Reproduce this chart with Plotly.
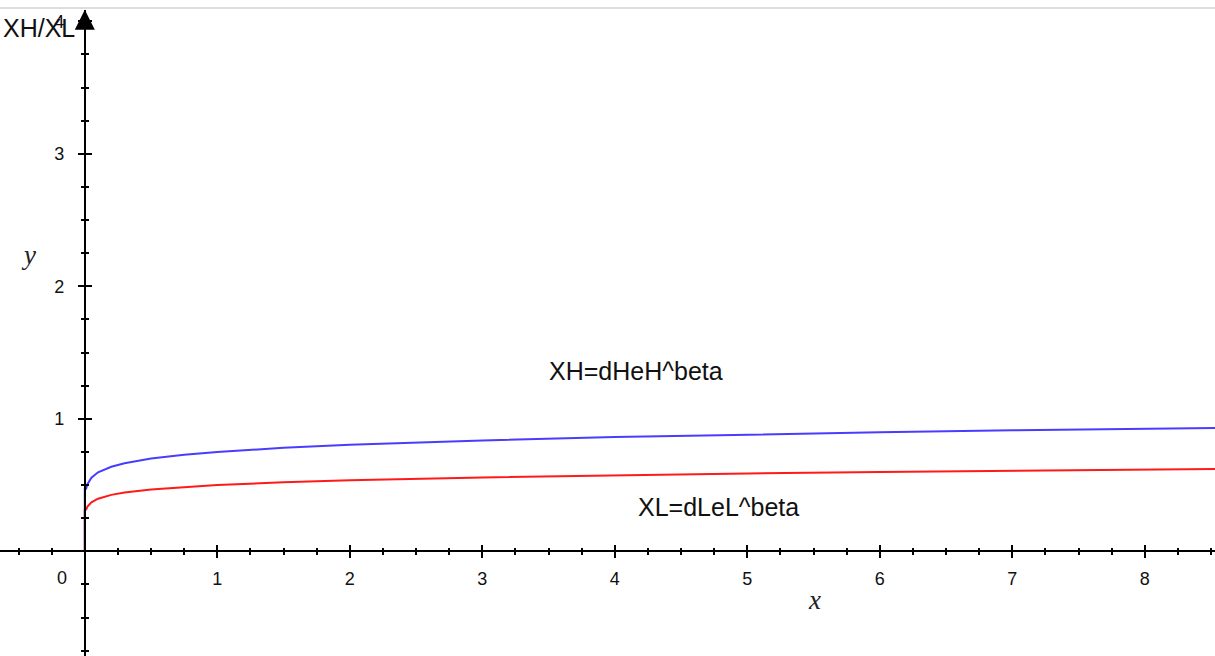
import plotly.graph_objects as go

# values
x_vals = [0, 0, 0.01, 0.02, 0.05, 0.1, 0.2, 0.3, 0.5, 0.75, 1, 1.5, 2, 3, 4, 5, 6, 7, 8, 8.6]
xh_vals = [0, 0.47, 0.473, 0.506, 0.555, 0.596, 0.638, 0.665, 0.700, 0.729, 0.75, 0.781, 0.804, 0.836, 0.862, 0.881, 0.898, 0.913, 0.925, 0.931]
xl_vals = [0, 0.31, 0.315, 0.337, 0.370, 0.397, 0.426, 0.443, 0.467, 0.486, 0.50, 0.521, 0.536, 0.557, 0.574, 0.587, 0.599, 0.608, 0.617, 0.621]
x_ticks = [1, 2, 3, 4, 5, 6, 7, 8]
y_ticks = [1, 2, 3, 4]

XR = [-0.64, 8.53]
YR = [-0.79, 4.086]
TICKFONT = dict(family="Liberation Sans, Arial, sans-serif", size=18, color="#111")

fig = go.Figure()
fig.add_trace(go.Scatter(x=x_vals, y=xh_vals, mode="lines",
                         line=dict(color="#4a3cff", width=2), hoverinfo="skip"))
fig.add_trace(go.Scatter(x=x_vals, y=xl_vals, mode="lines",
                         line=dict(color="#ff1a1a", width=2), hoverinfo="skip"))
# invisible trace to activate overlay axes (inside ticks)
fig.add_trace(go.Scatter(x=[None], y=[None], xaxis="x2", yaxis="y2",
                         mode="lines", hoverinfo="skip"))

y0_paper = (0 - YR[0]) / (YR[1] - YR[0]) * 0.985
x0_paper = (0 - XR[0]) / (XR[1] - XR[0])

common = dict(showgrid=False, zeroline=False, ticklen=6, tickwidth=1.5,
              tickcolor="black", automargin=False)
minor_out = dict(dtick=0.25, tick0=0, ticks="outside", ticklen=3,
                 tickwidth=1.5, tickcolor="black")
minor_in = dict(dtick=0.25, tick0=0, ticks="inside", ticklen=3,
                tickwidth=1.5, tickcolor="black")
fig.update_layout(
    width=1215, height=656,
    margin=dict(l=0, r=0, t=0, b=0, autoexpand=False),
    paper_bgcolor="white", plot_bgcolor="white",
    showlegend=False,
    xaxis=dict(range=XR, domain=[0, 1], anchor="free", position=y0_paper,
               tickmode="array", tickvals=x_ticks, ticks="outside",
               showline=True, linecolor="black", linewidth=2,
               tickfont=TICKFONT, ticklabelstandoff=5, minor=minor_out,
               **common),
    xaxis2=dict(range=XR, domain=[0, 1], anchor="free", position=y0_paper,
                overlaying="x", side="bottom", tickmode="array", tickvals=x_ticks,
                ticks="inside", showticklabels=False, showline=False,
                minor=minor_in, **common),
    yaxis=dict(range=YR, domain=[0, 0.985], anchor="free", position=x0_paper,
               tickmode="array", tickvals=y_ticks, ticks="outside",
               showline=True, linecolor="black", linewidth=2,
               tickfont=TICKFONT, ticklabelstandoff=10, minor=minor_out,
               **common),
    yaxis2=dict(range=YR, domain=[0, 0.985], anchor="free", position=x0_paper,
                overlaying="y", side="left", tickmode="array", tickvals=y_ticks,
                ticks="inside", showticklabels=False, showline=False,
                minor=minor_in, **common),
)

# thin grey line at top
fig.add_shape(type="line", xref="paper", yref="paper", x0=0, x1=1,
              y0=1 - 8 / 656, y1=1 - 8 / 656,
              line=dict(color="#dddddd", width=2))

ann_font = dict(family="Liberation Sans, Arial, sans-serif", size=25, color="#111")
# y-axis arrow
fig.add_annotation(x=0, y=YR[1], xref="x", yref="y", text="", showarrow=True,
                   ax=0, ay=16, arrowhead=2, arrowsize=2, arrowwidth=2,
                   arrowcolor="black")
fig.add_annotation(x=-0.17, y=-0.2, xref="x", yref="y", text="0",
                   showarrow=False, font=TICKFONT)
fig.add_annotation(x=-0.06, y=3.95, xref="x", yref="y", text="XH/XL",
                   xanchor="right", showarrow=False, font=ann_font)
fig.add_annotation(x=-0.426, y=2.234, xref="x", yref="y", text="y",
                   showarrow=False,
                   font=dict(family="Liberation Serif, Times New Roman, serif",
                             size=27, color="#222", style="italic"))
fig.add_annotation(x=5.51, y=-0.37, xref="x", yref="y", text="x",
                   showarrow=False,
                   font=dict(family="Liberation Serif, Times New Roman, serif",
                             size=27, color="#222", style="italic"))
fig.add_annotation(x=4.16, y=1.358, xref="x", yref="y", text="XH=dHeH^beta",
                   showarrow=False, font=ann_font)
fig.add_annotation(x=4.78, y=0.332, xref="x", yref="y", text="XL=dLeL^beta",
                   showarrow=False, font=ann_font)

fig.write_html("out.html", config={"displayModeBar": False},
               post_script="document.body.style.margin='0';")
